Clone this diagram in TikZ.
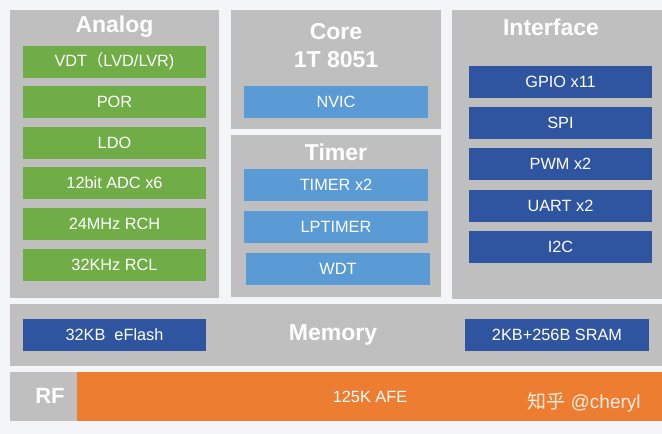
\documentclass[tikz,border=0pt]{standalone}
\usepackage{fontspec}
\setmainfont{Liberation Sans}
\newfontfamily\cjk{Noto Sans CJK SC}
\definecolor{bgc}{HTML}{F3F5F8}
\definecolor{panelc}{HTML}{BFBFBF}
\definecolor{greenc}{HTML}{70AD47}
\definecolor{lbluec}{HTML}{5B9BD5}
\definecolor{dbluec}{HTML}{2F55A0}
\definecolor{orangec}{HTML}{ED7D31}
\begin{document}
\begin{tikzpicture}[x=1pt,y=-1pt,
  panel/.style={fill=panelc, inner sep=0pt, outer sep=0pt},
  boxb/.style={inner sep=0pt, outer sep=0pt, minimum height=32pt, text=white, font=\fontsize{16.3}{17}\selectfont},
  gbox/.style={boxb, fill=greenc, minimum width=183pt},
  lbox/.style={boxb, fill=lbluec, minimum width=184pt},
  dbox/.style={boxb, fill=dbluec, minimum width=183pt},
  title/.style={text=white, inner sep=0pt, font=\fontsize{23}{24}\selectfont\bfseries}
]
\useasboundingbox (0,0) rectangle (662,434);
\fill[bgc] (0,0) rectangle (662,434);
% panels
\node[panel, minimum width=209pt, minimum height=288pt] (analog) at (114.5,154) {};
\node[panel, minimum width=210pt, minimum height=119pt] (core) at (336,69.5) {};
\node[panel, minimum width=210pt, minimum height=162pt] (timer) at (336,216) {};
\node[panel, minimum width=210pt, minimum height=289pt] (iface) at (557,154.5) {};
\node[panel, minimum width=652pt, minimum height=62pt] (memory) at (336,335) {};
\node[panel, minimum width=652pt, minimum height=49pt] (rf) at (336,396.5) {};
\node[inner sep=0pt, outer sep=0pt, fill=orangec, minimum width=585pt, minimum height=49pt] (afe) at (369.5,396.5) {};
% titles
\node[title] (tanalog) at (114.5,27) {Analog};
\node[title] (tcore) at (336,32) {Core};
\node[title] (tcpu) at (336,60) {1T 8051};
\node[title] (ttimer) at (336,152) {Timer};
\node[title] (tiface) at (551,27) {Interface};
\node[title] (tmem) at (333,335) {Memory};
\node[title, font=\fontsize{22}{24}\selectfont\bfseries] (trf) at (50,396) {RF};
% analog
\node[gbox] (vdt) at (114.5,61.5) {VDT{\cjk （}LVD/LVR)};
\node[gbox] (por) at (114.5,102) {POR};
\node[gbox] (ldo) at (114.5,143) {LDO};
\node[gbox] (adc) at (114.5,183) {12bit ADC x6};
\node[gbox] (rch) at (114.5,224) {24MHz RCH};
\node[gbox] (rcl) at (114.5,264.5) {32KHz RCL};
% core / timer
\node[lbox] (nvic) at (336,102) {NVIC};
\node[lbox] (tmr) at (336,185) {TIMER x2};
\node[lbox] (lptmr) at (336,226.5) {LPTIMER};
\node[lbox] (wdt) at (338,269) {WDT};
% interface
\node[dbox] (gpio) at (560.5,82) {GPIO x11};
\node[dbox] (spi) at (560.5,123) {SPI};
\node[dbox] (pwm) at (560.5,164) {PWM x2};
\node[dbox] (uart) at (560.5,206) {UART x2};
\node[dbox] (i2c) at (560.5,247) {I2C};
% memory
\node[dbox] (flash) at (114.5,335) {32KB\ \ eFlash};
\node[dbox, minimum width=184pt] (sram) at (557,335) {2KB+256B SRAM};
% rf
\node[text=white, inner sep=0pt, font=\fontsize{16.3}{17}\selectfont] (afet) at (370,397) {125K AFE};
\node[text=white!85!orangec, inner sep=0pt, font=\fontsize{19}{20}\selectfont] (wm) at (584,402) {{\cjk 知乎} @cheryl};
\end{tikzpicture}
\end{document}
